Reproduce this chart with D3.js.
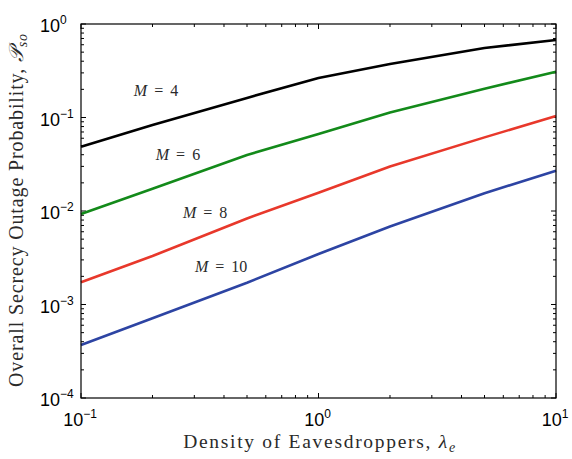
<!DOCTYPE html>
<html>
<head>
<meta charset="utf-8">
<script src="https://cdn.jsdelivr.net/npm/d3@7"></script>
<style>
  html, body { margin: 0; padding: 0; background: #fff; }
  svg { display: block; }
</style>
</head>
<body>
<svg id="chart" width="572" height="459"></svg>
<script>
// Eavesdropper density (x) and outage probability per antenna count M
const lambdaE = [0.1, 0.2, 0.5, 1, 2, 5, 10];
const outageM4  = [0.0487, 0.0832, 0.162, 0.2645, 0.3735, 0.554, 0.674];
const outageM6  = [0.00929, 0.01727, 0.0397, 0.0666, 0.1134, 0.203, 0.309];
const outageM8  = [0.001727, 0.0033, 0.00832, 0.01566, 0.02985, 0.0613, 0.1038];
const outageM10 = [0.000369, 0.000712, 0.00171, 0.00347, 0.00683, 0.01549, 0.0270];

const seriesNames  = ["M = 4", "M = 6", "M = 8", "M = 10"];
const seriesColors = ["#000000", "#138a1a", "#e8382b", "#2d44a3"];
const seriesValues = [outageM4, outageM6, outageM8, outageM10];
// label anchor (centre, baseline) for each curve, in data units
const labelX = [0.207, 0.256, 0.333, 0.389];
const labelY = [0.170, 0.0351, 0.00841, 0.00223];

const xTickExp = [-1, 0, 1];
const yTickExp = [0, -1, -2, -3, -4];

const W = 572, H = 459;
const margin = { top: 24, right: 16, bottom: 61, left: 81 };
const iw = W - margin.left - margin.right;
const ih = H - margin.top - margin.bottom;

const svg = d3.select("#chart");
const g = svg.append("g").attr("transform", `translate(${margin.left},${margin.top})`);

const x = d3.scaleLog().domain([0.1, 10]).range([0, iw]);
const y = d3.scaleLog().domain([1e-4, 1]).range([ih, 0]);

// minor tick positions (2..9 in each decade)
function minors(lo, hi) {
  const out = [];
  for (let e = lo; e < hi; e++) for (let k = 2; k <= 9; k++) out.push(k * Math.pow(10, e));
  return out;
}
const xMinor = minors(-1, 1);
const yMinor = minors(-4, 0);
const xMajor = xTickExp.map(e => Math.pow(10, e));
const yMajor = yTickExp.map(e => Math.pow(10, e));

const tickG = g.append("g").attr("stroke", "#000").attr("stroke-width", 1);
const majLen = 5, minLen = 3;
// bottom and top ticks (pointing inward)
[[xMajor, majLen], [xMinor, minLen]].forEach(([vals, len]) => {
  vals.forEach(v => {
    const px = x(v);
    tickG.append("line").attr("x1", px).attr("x2", px).attr("y1", ih).attr("y2", ih - len);
    tickG.append("line").attr("x1", px).attr("x2", px).attr("y1", 0).attr("y2", len);
  });
});
// left and right ticks
[[yMajor, majLen], [yMinor, minLen]].forEach(([vals, len]) => {
  vals.forEach(v => {
    const py = y(v);
    tickG.append("line").attr("x1", 0).attr("x2", len).attr("y1", py).attr("y2", py);
    tickG.append("line").attr("x1", iw).attr("x2", iw - len).attr("y1", py).attr("y2", py);
  });
});

// curves
const line = d3.line().x((d, i) => x(lambdaE[i])).y(d => y(d));
seriesValues.forEach((vals, si) => {
  g.append("path")
    .datum(vals)
    .attr("fill", "none")
    .attr("stroke", seriesColors[si])
    .attr("stroke-width", 2.6)
    .attr("stroke-linejoin", "round")
    .attr("d", line);
});

// frame
g.append("rect").attr("x", 0).attr("y", 0).attr("width", iw).attr("height", ih)
  .attr("fill", "none").attr("stroke", "#000").attr("stroke-width", 1.2);

const serif = "'Liberation Serif', 'DejaVu Serif', serif";

// widen a text run to a given length by spreading its letters
function spreadTo(textSel, target) {
  const node = textSel.node();
  const len = node.getComputedTextLength();
  const n = node.textContent.length;
  if (len < target && n > 1) textSel.attr("letter-spacing", ((target - len) / (n - 1)).toFixed(2));
}

// curve labels, with roomy spacing around the equals sign
seriesNames.forEach((name, si) => {
  const t = g.append("text")
    .attr("x", x(labelX[si])).attr("y", y(labelY[si]))
    .attr("text-anchor", "middle")
    .attr("font-family", serif)
    .attr("font-size", 16)
    .attr("fill", "#2a2a2a");
  const parts = name.split(" = ");
  t.append("tspan").attr("font-style", "italic").text(parts[0]);
  t.append("tspan").attr("dx", 3).text(" =");
  t.append("tspan").attr("dx", 3).text(" " + parts[1]);
});

// tick labels
const tickFont = "'Liberation Sans', Arial, Helvetica, sans-serif";
function powLabel(sel, exp) {
  sel.append("tspan").text("10");
  sel.append("tspan").attr("dy", -8).attr("font-size", 12).text(exp < 0 ? "\u2212" + (-exp) : String(exp));
}
xTickExp.forEach(e => {
  const t = g.append("text")
    .attr("x", x(Math.pow(10, e)) - 1).attr("y", ih + 28)
    .attr("text-anchor", "middle")
    .attr("font-family", tickFont).attr("font-size", 18).attr("fill", "#000");
  powLabel(t, e);
});
yTickExp.forEach(e => {
  const t = g.append("text")
    .attr("x", 40 - margin.left).attr("y", y(Math.pow(10, e)) + 8)
    .attr("text-anchor", "start")
    .attr("font-family", tickFont).attr("font-size", 18).attr("fill", "#000");
  powLabel(t, e);
});

// axis titles
const xt = svg.append("text")
  .attr("x", 320).attr("y", 448)
  .attr("text-anchor", "middle")
  .attr("font-family", serif).attr("font-size", 19.5).attr("fill", "#2a2a2a");
xt.append("tspan").text("Density of Eavesdroppers, ");
xt.append("tspan").attr("font-style", "italic").text("\u03BB");
xt.append("tspan").attr("font-style", "italic").attr("font-size", 14).attr("dy", 4).text("e");
spreadTo(xt, 272);

const yt = svg.append("text")
  .attr("transform", `translate(23,210) rotate(-90)`)
  .attr("text-anchor", "middle")
  .attr("font-family", serif).attr("font-size", 20).attr("fill", "#2a2a2a");
yt.append("tspan").text("Overall Secrecy Outage Probability, ");
yt.append("tspan").attr("font-style", "italic").text("\uD835\uDCAB");
yt.append("tspan").attr("font-style", "italic").attr("font-size", 14).attr("dy", 4).text("so");
spreadTo(yt, 354);
</script>
</body>
</html>
